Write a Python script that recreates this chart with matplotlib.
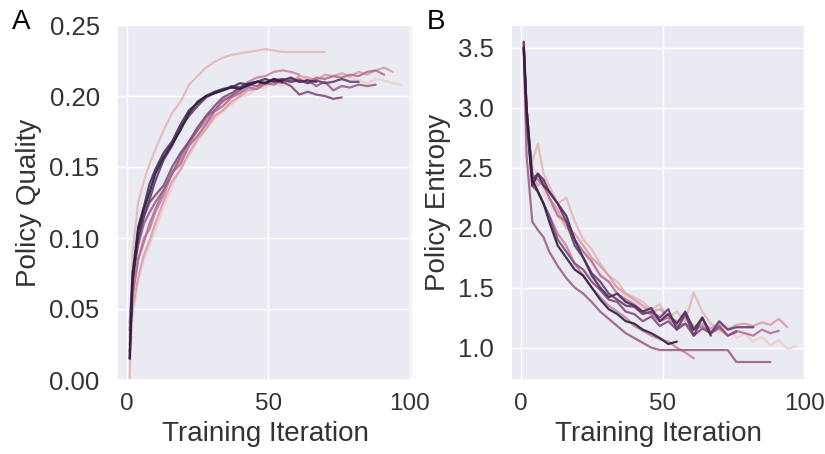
import numpy as np
import matplotlib
matplotlib.use("Agg")
import matplotlib.pyplot as plt
import seaborn as sns

# shared iteration grid (runs stop at different lengths)
iters = [1, 2, 4, 6, 8, 10, 13, 16, 19, 22, 25, 28, 31, 34, 37, 40, 43, 46, 49,
         52, 55, 58, 61, 64, 67, 70, 73, 76, 79, 82, 85, 88, 91, 94, 97]

# policy quality per run (light -> dark)
quality = [
    [0.01, 0.045, 0.07, 0.085, 0.095, 0.105, 0.122, 0.136, 0.15, 0.158, 0.168, 0.176, 0.184, 0.189, 0.194, 0.199, 0.201, 0.205, 0.206, 0.209, 0.207, 0.21, 0.211, 0.213, 0.21, 0.212, 0.214, 0.211, 0.213, 0.211, 0.209, 0.212, 0.211, 0.209, 0.208],
    [0.0, 0.09, 0.125, 0.14, 0.152, 0.162, 0.176, 0.188, 0.196, 0.208, 0.214, 0.22, 0.224, 0.227, 0.229, 0.23, 0.231, 0.232, 0.233, 0.232, 0.231, 0.231, 0.231, 0.231, 0.231, 0.231],
    [0.02, 0.05, 0.072, 0.088, 0.098, 0.11, 0.126, 0.14, 0.148, 0.16, 0.17, 0.177, 0.186, 0.19, 0.196, 0.2, 0.204, 0.205, 0.208, 0.209, 0.212, 0.21, 0.214, 0.213, 0.211, 0.215, 0.214, 0.216, 0.214, 0.217, 0.215, 0.218, 0.22, 0.217],
    [0.03, 0.06, 0.085, 0.1, 0.106, 0.118, 0.13, 0.146, 0.155, 0.166, 0.176, 0.182, 0.19, 0.196, 0.2, 0.206, 0.21, 0.213, 0.214, 0.217, 0.218, 0.217, 0.215],
    [0.025, 0.06, 0.085, 0.097, 0.11, 0.12, 0.133, 0.146, 0.152, 0.165, 0.172, 0.18, 0.189, 0.193, 0.199, 0.202, 0.206, 0.205, 0.209, 0.208, 0.211, 0.21, 0.212, 0.209, 0.213, 0.212, 0.214, 0.213, 0.215, 0.214, 0.217, 0.218, 0.215],
    [0.04, 0.075, 0.095, 0.11, 0.118, 0.125, 0.134, 0.145, 0.158, 0.168, 0.176, 0.185, 0.19, 0.197, 0.2, 0.204, 0.208, 0.207, 0.21, 0.211, 0.209, 0.212, 0.21, 0.211, 0.207, 0.21, 0.204, 0.207, 0.206, 0.208, 0.207, 0.208],
    [0.035, 0.07, 0.098, 0.115, 0.125, 0.13, 0.137, 0.15, 0.16, 0.168, 0.178, 0.186, 0.193, 0.199, 0.202, 0.206, 0.207, 0.21, 0.209, 0.212, 0.21, 0.207, 0.201, 0.203, 0.201, 0.2, 0.198, 0.199],
    [0.02, 0.07, 0.1, 0.115, 0.127, 0.14, 0.155, 0.165, 0.178, 0.186, 0.193, 0.199, 0.202, 0.204, 0.207, 0.206, 0.209, 0.21, 0.209, 0.211, 0.212, 0.21, 0.211, 0.209, 0.211, 0.209, 0.21, 0.212, 0.21, 0.21],
    [0.015, 0.075, 0.108, 0.122, 0.138, 0.148, 0.16, 0.168, 0.18, 0.19, 0.195, 0.2, 0.203, 0.205, 0.206, 0.209, 0.208, 0.21, 0.212, 0.21, 0.211, 0.213, 0.21, 0.211, 0.21],
    [0.015, 0.07, 0.105, 0.12, 0.132, 0.145, 0.157, 0.166, 0.176, 0.188, 0.196, 0.2, 0.202, 0.204, 0.206, 0.205, 0.208, 0.21, 0.209, 0.212, 0.21],
]

# policy entropy per run (same runs)
entropy = [
    [3.4, 2.9, 2.5, 2.45, 2.3, 2.2, 2.1, 2.0, 1.88, 1.8, 1.7, 1.62, 1.55, 1.5, 1.42, 1.38, 1.33, 1.3, 1.27, 1.25, 1.2, 1.24, 1.17, 1.2, 1.15, 1.12, 1.18, 1.08, 1.12, 1.05, 1.09, 1.02, 1.06, 0.99, 1.01],
    [3.3, 2.8, 2.55, 2.7, 2.45, 2.35, 2.2, 2.25, 2.05, 1.9, 1.82, 1.7, 1.6, 1.55, 1.45, 1.42, 1.38, 1.32, 1.36, 1.25, 1.3, 1.22, 1.46, 1.3, 1.2, 1.15],
    [3.5, 2.95, 2.45, 2.35, 2.4, 2.25, 2.15, 2.0, 1.95, 1.85, 1.75, 1.68, 1.6, 1.5, 1.45, 1.4, 1.35, 1.3, 1.32, 1.26, 1.22, 1.25, 1.18, 1.2, 1.16, 1.2, 1.15, 1.19, 1.2, 1.18, 1.21, 1.19, 1.24, 1.17],
    [3.45, 2.9, 2.4, 2.3, 2.2, 2.1, 1.95, 1.85, 1.7, 1.6, 1.5, 1.42, 1.35, 1.3, 1.25, 1.18, 1.14, 1.1, 1.07, 1.05, 1.0, 0.96, 0.91],
    [3.5, 3.0, 2.45, 2.4, 2.35, 2.25, 2.1, 2.05, 1.9, 1.8, 1.72, 1.6, 1.55, 1.45, 1.4, 1.36, 1.3, 1.28, 1.22, 1.25, 1.18, 1.2, 1.15, 1.18, 1.12, 1.16, 1.1, 1.14, 1.12, 1.1, 1.15, 1.12, 1.14],
    [3.55, 2.6, 2.05, 1.98, 1.92, 1.8, 1.68, 1.58, 1.5, 1.45, 1.38, 1.3, 1.24, 1.18, 1.12, 1.08, 1.04, 1.0, 0.98, 0.98, 0.98, 0.98, 0.98, 0.98, 0.98, 0.98, 0.98, 0.88, 0.88, 0.88, 0.88, 0.88],
    [3.5, 2.9, 2.35, 2.3, 2.2, 2.1, 1.9, 1.8, 1.7, 1.65, 1.55, 1.48, 1.4, 1.38, 1.3, 1.28, 1.22, 1.26, 1.18, 1.22, 1.15, 1.2, 1.1, 1.16, 1.12, 1.18, 1.1, 1.13],
    [3.55, 3.0, 2.4, 2.45, 2.4, 2.3, 2.2, 2.05, 1.85, 1.75, 1.62, 1.55, 1.45, 1.4, 1.35, 1.34, 1.28, 1.3, 1.25, 1.32, 1.15, 1.28, 1.1, 1.25, 1.12, 1.22, 1.15, 1.17, 1.17, 1.17],
    [3.5, 2.95, 2.35, 2.45, 2.35, 2.3, 2.2, 2.1, 1.9, 1.75, 1.6, 1.5, 1.42, 1.45, 1.38, 1.35, 1.3, 1.33, 1.22, 1.28, 1.2, 1.3, 1.15, 1.25, 1.1],
    [3.5, 3.0, 2.4, 2.3, 2.2, 2.05, 1.85, 1.75, 1.65, 1.6, 1.5, 1.4, 1.32, 1.28, 1.22, 1.2, 1.15, 1.12, 1.08, 1.03, 1.05],
]

sns.set_theme(style="darkgrid")
plt.rcParams['font.family'] = ['Liberation Sans', 'DejaVu Sans']

colors = sns.cubehelix_palette(len(quality))

fig = plt.figure(figsize=(8.25, 4.54), dpi=100)
axA = fig.add_axes([117/825, 74/454, 296/825, 355/454])
axB = fig.add_axes([511/825, 74/454, 295/825, 355/454])

for i in range(len(quality)):
    n = len(quality[i])
    axA.plot(iters[:n], quality[i], color=colors[i], lw=1.6, alpha=0.9)
    m = len(entropy[i])
    axB.plot(iters[:m], entropy[i], color=colors[i], lw=1.6, alpha=0.9)

axA.set_xlim(-3.5, 101.2)
axA.set_ylim(0, 0.25)
axA.set_xticks([0, 50, 100])
axA.set_yticks([0, 0.05, 0.10, 0.15, 0.20, 0.25])
axA.set_ylabel("Policy Quality", fontsize=20, labelpad=5)
axA.set_xlabel("Training Iteration", fontsize=20, labelpad=4)

axB.set_xlim(-3.5, 100.6)
axB.set_ylim(0.73, 3.69)
axB.set_xticks([0, 50, 100])
axB.set_yticks([1.0, 1.5, 2.0, 2.5, 3.0, 3.5])
axB.set_ylabel("Policy Entropy", fontsize=20, labelpad=5)
axB.set_xlabel("Training Iteration", fontsize=20, labelpad=4)

for ax in (axA, axB):
    ax.tick_params(axis="x", labelsize=17.5, colors="#333333")
    ax.tick_params(axis="y", labelsize=18.5, colors="#333333", pad=6.5)
    ax.xaxis.label.set_color("#333333")
    ax.yaxis.label.set_color("#333333")

fig.text(12/825, 1 - 29/454, "A", fontsize=20, color="black")
fig.text(427/825, 1 - 29/454, "B", fontsize=20, color="black")

fig.savefig("out.png", dpi=100)
